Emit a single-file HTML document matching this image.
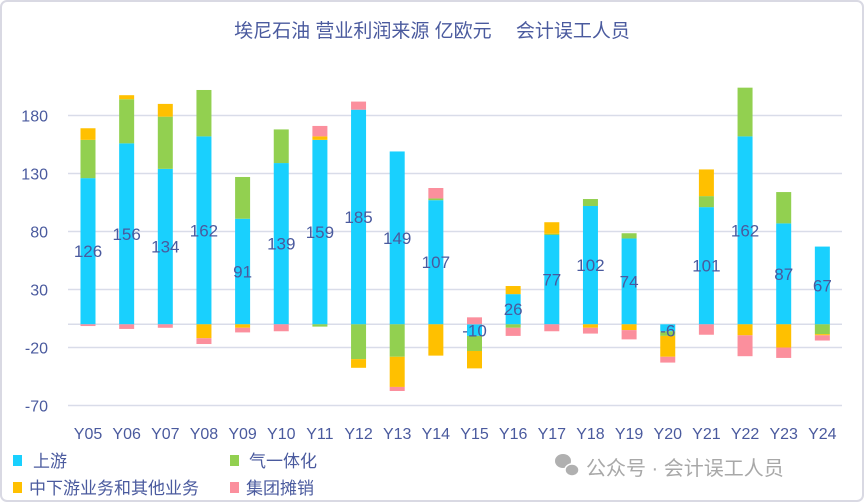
<!DOCTYPE html>
<html><head><meta charset="utf-8"><style>
body{margin:0;background:#fff;}
#wrap{position:relative;width:864px;height:503px;overflow:hidden;}
svg text{font-family:"Liberation Sans","Noto Sans CJK SC",sans-serif;}
</style></head><body>
<div id="wrap">
<svg id="chart" width="864" height="503">
<rect x="1" y="1" width="862" height="500" rx="6" fill="#fff" stroke="#d9d9e3" stroke-width="2"/>
<text x="432" y="37" text-anchor="middle" font-size="19" fill="#4a5a9e">埃尼石油 营业利润来源 亿欧元　 会计误工人员</text>
<g id="grid"></g><g id="bars"></g><g id="labels"></g><g id="axes"></g>
<g>
<rect x="13" y="455" width="9" height="11" fill="#19d0fe"/>
<text x="33" y="467" font-size="17" fill="#4a5a9e">上游</text>
<rect x="230" y="455" width="9" height="11" fill="#92d050"/>
<text x="249" y="467" font-size="17" fill="#4a5a9e">气一体化</text>
<rect x="13" y="482" width="9" height="11" fill="#ffc000"/>
<text x="29" y="494" font-size="17" fill="#4a5a9e">中下游业务和其他业务</text>
<rect x="230" y="482" width="9" height="11" fill="#fb8f9d"/>
<text x="246" y="494" font-size="17" fill="#4a5a9e">集团摊销</text>
</g>
<g>
<ellipse cx="563" cy="461" rx="8" ry="7" fill="#b0b0b0"/>
<ellipse cx="572" cy="470" rx="7" ry="6" fill="#b0b0b0" stroke="#fff" stroke-width="1.5"/>
<text x="586" y="475" font-size="20" fill="#a8a8a8">公众号 · 会计误工人员</text>
</g>
</svg></div>
<script>
const categories=["Y05","Y06","Y07","Y08","Y09","Y10","Y11","Y12","Y13","Y14","Y15","Y16","Y17","Y18","Y19","Y20","Y21","Y22","Y23","Y24"];
const upstream=[126,156,134,162,91,139,159,185,149,107,-10,26,77,102,74,-6,101,162,87,67];
const gas=[33,38,45,40,36,29,-2,-30,-28,1.5,-13,-3,1,6,4.5,-4,9.5,42,27,-8.5];
const downstream=[10,3.5,11,-12,-3,0,3,-7.5,-26,-27,-15,7,10,-3,-5,-18,23,-9.5,-20,-1];
const corporate=[-1.5,-4,-3,-5,-4,-6,9,7,-3.5,9,6,-7,-6,-5,-8,-5,-9,-18,-9,-4.5];
const yTicks=[-70,-20,30,80,130,180];
const gridVals=[-70,-20,0,30,80,130,180];
const ns="http://www.w3.org/2000/svg";
const y0=324.3, ppu=1.16, x0=88, step=38.65, bw=15;
const Y=v=>y0-v*ppu, X=i=>x0+i*step;
function mk(t,a,p){const e=document.createElementNS(ns,t);for(const k in a)e.setAttribute(k,a[k]);p.appendChild(e);return e;}
const G=document.getElementById('grid'),B=document.getElementById('bars'),L=document.getElementById('labels'),A=document.getElementById('axes');
gridVals.forEach(v=>{const l=mk('line',{x1:68,x2:842,y1:Y(v),y2:Y(v),stroke:'#d9dce9','stroke-width':1.5},G);

});
yTicks.forEach(v=>{const t=mk('text',{x:48,y:Y(v)+6,'text-anchor':'end','font-size':16,fill:'#4a5a9e'},A);t.textContent=v;

});
const series=[[upstream,'#19d0fe','upstream'],[gas,'#92d050','gas'],[downstream,'#ffc000','downstream'],[corporate,'#fb8f9d','corporate']];
categories.forEach((c,i)=>{let pos=0,neg=0;
series.forEach(([arr,col,nm])=>{const v=arr[i];if(!v)return;let a,b;
if(v>0){a=pos;b=pos+v;pos=b;}else{a=neg;b=neg+v;neg=b;}
const top=Math.min(Y(a),Y(b)),h=Math.abs(Y(a)-Y(b));
const r=mk('rect',{x:X(i)-bw/2,y:top,width:bw,height:h,fill:col},B);

});
const cy=Y(upstream[i]/2)+6;
const t=mk('text',{x:X(i),y:upstream[i]<0?Y(0)+12:cy,'text-anchor':'middle','font-size':17,fill:'#4a5a9e'},L);t.textContent=upstream[i];


const xl=mk('text',{x:X(i),y:439,'text-anchor':'middle','font-size':16,fill:'#4a5a9e'},A);xl.textContent=c;

});
</script>
</body></html>
